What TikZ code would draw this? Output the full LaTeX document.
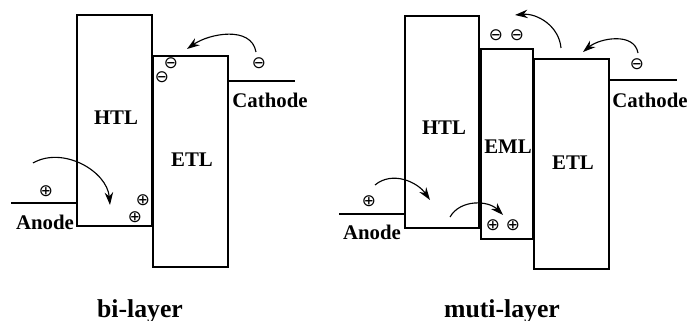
\documentclass[tikz,border=0pt]{standalone}
\usepackage{fontspec}
\setmainfont{Liberation Serif}
\newfontfamily\chargefont{DejaVu Sans}
\usetikzlibrary{arrows.meta}

\begin{document}
\begin{tikzpicture}[x=0.025cm, y=-0.025cm,
  % band boxes, labels, charges and hopping arrows
  layer/.style={draw=black, line width=0.8pt},
  lbl/.style={font=\fontsize{14.8}{16}\selectfont\bfseries, inner sep=0pt},
  caption/.style={font=\fontsize{18.3}{20}\selectfont\bfseries, inner sep=0pt, anchor=base},
  charge/.style={font=\chargefont\fontsize{12}{12}\selectfont, inner sep=0pt},
  hop/.style={draw=black, line width=0.8pt, -{Stealth[length=9pt,width=6pt]}}
]
\useasboundingbox (0,0) rectangle (690,321);

% ---- bi-layer ----
\draw[layer] (77,15) rectangle (152,226);    % HTL
\draw[layer] (153,56) rectangle (228,267);   % ETL
\draw[layer] (11,203) -- (77,203);           % anode
\draw[layer] (228,81) -- (295,81);           % cathode

\node[lbl] (htlA) at (116,118) {HTL};
\node[lbl] (etlA) at (192,160) {ETL};
\node[lbl] (anodeA) at (45,222) {Anode};
\node[lbl] (cathA) at (270,100) {Cathode};

\node[charge] (pA0) at (46,191) {⊕};
\node[charge] (pA1) at (143,200) {⊕};
\node[charge] (pA2) at (135,217) {⊕};
\node[charge] (nA0) at (259,63) {⊖};
\node[charge] (nA1) at (171,63) {⊖};
\node[charge] (nA2) at (162,77) {⊖};

\coordinate (hA0) at (33,163);
\coordinate (hA1) at (110,205);
\coordinate (eA0) at (256,52);
\coordinate (eA1) at (187,49);
\draw[hop] (hA0) to[out=30,in=95] (hA1);
\draw[hop] (eA0) to[out=100,in=35] (eA1);

\node[caption] (biCap) at (140,317) {bi-layer};

% ---- muti-layer ----
\draw[layer] (405,16) rectangle (479,228);   % HTL
\draw[layer] (481,49) rectangle (533,239);   % EML
\draw[layer] (534,59) rectangle (609,269);   % ETL
\draw[layer] (339,214) -- (405,214);         % anode
\draw[layer] (609,80) -- (677,80);           % cathode

\node[lbl] (htlB) at (444,128) {HTL};
\node[lbl] (emlB) at (508,147) {EML};
\node[lbl] (etlB) at (573,163) {ETL};
\node[lbl] (anodeB) at (372,232) {Anode};
\node[lbl] (cathB) at (650,100) {Cathode};

\node[charge] (pB0) at (369,201) {⊕};
\node[charge] (pB1) at (493,225) {⊕};
\node[charge] (pB2) at (513,225) {⊕};
\node[charge] (nB0) at (637,64) {⊖};
\node[charge] (nB1) at (496,35) {⊖};
\node[charge] (nB2) at (517,35) {⊖};

\coordinate (hB0) at (375,185);
\coordinate (hB1) at (430,200);
\coordinate (hB2) at (450,217);
\coordinate (hB3) at (503,215);
\coordinate (eB0) at (561,48);
\coordinate (eB1) at (515,15);
\coordinate (eB2) at (638,53);
\coordinate (eB3) at (583,52);
\draw[hop] (hB0) to[out=40,in=125] (hB1);
\draw[hop] (hB2) to[out=60,in=135] (hB3);
\draw[hop] (eB0) to[out=95,in=5] (eB1);
\draw[hop] (eB2) to[out=100,in=40] (eB3);

\node[caption] (mutiCap) at (502,317) {muti-layer};

\end{tikzpicture}
\end{document}
